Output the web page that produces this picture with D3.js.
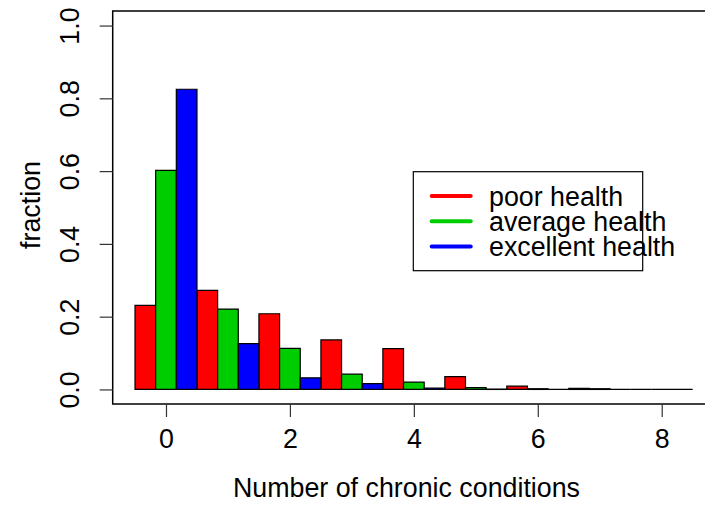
<!DOCTYPE html>
<html>
<head>
<meta charset="utf-8">
<script src="https://cdn.jsdelivr.net/npm/d3@7"></script>
<style>
  body { margin: 0; background: #fff; }
  svg text { font-family: "Liberation Sans", Arial, Helvetica, sans-serif; fill: #000; }
</style>
</head>
<body>
<div id="chart"></div>
<script>
// number of chronic conditions (x categories)
var conditions = [0, 1, 2, 3, 4, 5, 6, 7, 8];
// fraction of people in each health group
var poor = [0.231, 0.272, 0.208, 0.136, 0.112, 0.035, 0.009, 0.003, 0.0];
var average = [0.602, 0.221, 0.113, 0.042, 0.020, 0.005, 0.002, 0.002, 0.0];
var excellent = [0.825, 0.126, 0.032, 0.016, 0.004, 0.001, 0.0, 0.0, 0.0];
var seriesNames = ["poor health", "average health", "excellent health"];
var seriesColors = ["#ff0000", "#00cd00", "#0000ff"];
var xTicks = [0, 2, 4, 6, 8];
var yTicks = [0, 0.2, 0.4, 0.6, 0.8, 1.0];

var width = 705, height = 506;
var fontSize = 26.8;

var svg = d3.select("#chart").append("svg")
  .attr("width", width)
  .attr("height", height);

// R style plot region, extended 4% on each side
var x = d3.scaleLinear().domain([-0.86, 8.86]).range([112.7, 715]);
var y = d3.scaleLinear().domain([-0.04, 1.04]).range([404, 11]);

var series = [poor, average, excellent];
var barW = 1 / 3;

// bars (paths so that zero-height bars still show a baseline)
series.forEach(function(vals, s){
  svg.append("g")
    .selectAll("path")
    .data(conditions)
    .enter()
    .append("path")
    .attr("d", function(c, i){
      var x0 = x(c - 0.5 + s * barW), x1 = x(c - 0.5 + (s + 1) * barW);
      var y0 = y(0), y1 = y(vals[i]);
      return "M" + x0 + "," + y0 + "V" + y1 + "H" + x1 + "V" + y0 + "Z";
    })
    .attr("fill", seriesColors[s])
    .attr("stroke", "#000")
    .attr("stroke-width", 1.2);
});

// box
svg.append("rect")
  .attr("x", x.range()[0])
  .attr("y", y.range()[1])
  .attr("width", x.range()[1] - x.range()[0])
  .attr("height", y.range()[0] - y.range()[1])
  .attr("fill", "none")
  .attr("stroke", "#000")
  .attr("stroke-width", 1.5);

// x axis
var xAxis = d3.axisBottom(x).tickValues(xTicks).tickSize(13).tickPadding(12).tickFormat(d3.format("d"));
var gx = svg.append("g")
  .attr("transform", "translate(0," + y.range()[0] + ")")
  .call(xAxis);
gx.select(".domain").remove();
gx.selectAll(".tick line").attr("stroke", "#333").attr("stroke-width", 1.2);
gx.selectAll(".tick text")
  .attr("font-size", fontSize)
  .attr("font-family", null)
  .attr("dy", "0.71em");

// y axis, labels rotated like R (las = 0)
var yAxis = d3.axisLeft(y).tickValues(yTicks).tickSize(13).tickFormat(d3.format(".1f"));
var gy = svg.append("g")
  .attr("transform", "translate(" + x.range()[0] + ",0)")
  .call(yAxis);
gy.select(".domain").remove();
gy.selectAll(".tick line").attr("stroke", "#333").attr("stroke-width", 1.2);
gy.selectAll(".tick text")
  .attr("font-size", fontSize)
  .attr("font-family", null)
  .attr("text-anchor", "middle")
  .attr("x", null)
  .attr("dy", null)
  .attr("transform", "translate(-34,0) rotate(-90)");

// axis titles
svg.append("text")
  .attr("x", 406.5)
  .attr("y", 497)
  .attr("text-anchor", "middle")
  .attr("font-size", fontSize)
  .text("Number of chronic conditions");

svg.append("text")
  .attr("transform", "translate(40,205) rotate(-90)")
  .attr("text-anchor", "middle")
  .attr("font-size", fontSize)
  .text("fraction");

// legend (text runs past the box, as in the R original)
var legend = svg.append("g");
legend.append("rect")
  .attr("x", 413.3)
  .attr("y", 171.7)
  .attr("width", 229.4)
  .attr("height", 99)
  .attr("fill", "#fff")
  .attr("stroke", "#000")
  .attr("stroke-width", 1.2);

var items = legend.selectAll("g.item")
  .data(seriesNames)
  .enter()
  .append("g")
  .attr("class", "item")
  .attr("transform", function(d, i){ return "translate(0," + (196 + i * 25.3) + ")"; });

items.append("line")
  .attr("x1", 431.7)
  .attr("x2", 470.7)
  .attr("stroke", function(d, i){ return seriesColors[i]; })
  .attr("stroke-width", 4)
  .attr("stroke-linecap", "round");

items.append("text")
  .attr("x", 489)
  .attr("dy", "0.36em")
  .attr("font-size", fontSize)
  .text(function(d){ return d; });
</script>
</body>
</html>
